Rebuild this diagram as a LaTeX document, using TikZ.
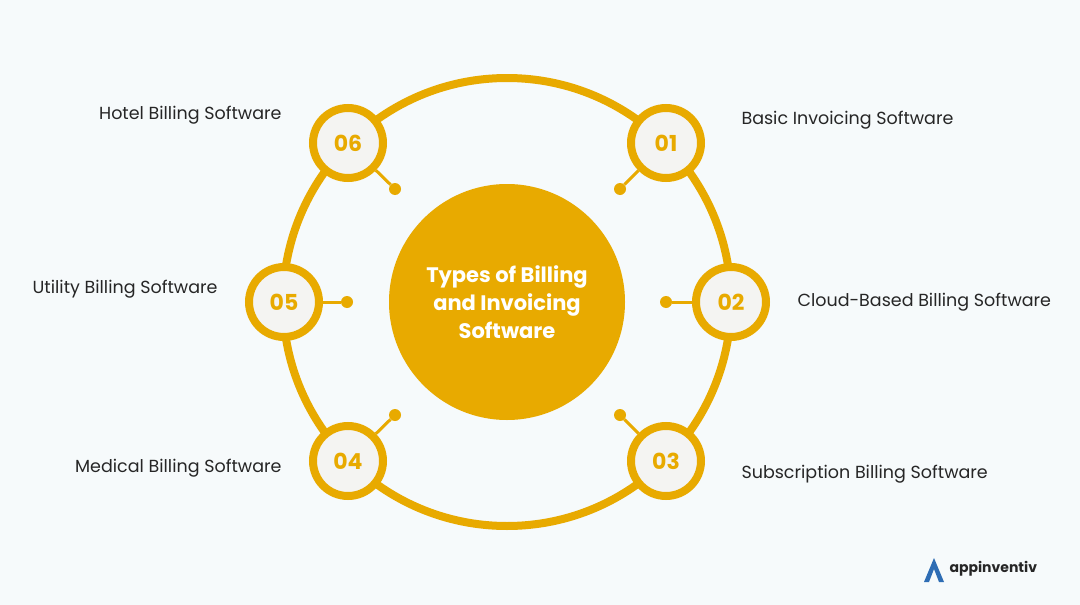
\documentclass[tikz,border=0pt]{standalone}
\usepackage{fontspec}
\setmainfont{Poppins}
\definecolor{gold}{HTML}{E8AA00}
\definecolor{bg}{HTML}{F6FAFB}
\definecolor{numfill}{HTML}{F4F4F2}
\definecolor{logo}{HTML}{2E6DB4}
\begin{document}
\begin{tikzpicture}[x=1pt,y=-1pt,
  num/.style={circle,draw=gold,line width=8pt,fill=numfill,minimum size=70pt,inner sep=0pt,text=gold,font=\fontsize{22}{24}\selectfont\bfseries},
  dot/.style={circle,fill=gold,minimum size=12pt,inner sep=0pt},
  lab/.style={font=\fontsize{17.5}{20}\selectfont,text=black!85},
  link/.style={gold,line width=3pt}]
\fill[bg] (0,0) rectangle (1080,605);
\useasboundingbox (0,0) rectangle (1080,605);
\draw[gold,line width=8pt] (507,302) circle (224);
\node[circle,fill=gold,minimum size=236pt,inner sep=0pt,text=white,align=center,font=\fontsize{21}{28}\selectfont\bfseries] (c) at (507,302) {Types of Billing\\and Invoicing\\Software};
\node[num] (n1) at (666,143) {01};
\node[num] (n2) at (731,302) {02};
\node[num] (n3) at (666,461) {03};
\node[num] (n4) at (348,461) {04};
\node[num] (n5) at (284,302) {05};
\node[num] (n6) at (348,143) {06};
\node[dot] (d1) at (620,189) {};
\node[dot] (d2) at (666,302) {};
\node[dot] (d3) at (620,415) {};
\node[dot] (d4) at (395,415) {};
\node[dot] (d5) at (347,302) {};
\node[dot] (d6) at (395,189) {};
\foreach \i in {1,...,6} \draw[link] (n\i) -- (d\i);
\node[lab,anchor=west] (l1) at (738,120) {Basic Invoicing Software};
\node[lab,anchor=west] (l2) at (794,302) {Cloud-Based Billing Software};
\node[lab,anchor=west] (l3) at (738,474) {Subscription Billing Software};
\node[lab,anchor=east] (l4) at (285,468) {Medical Billing Software};
\node[lab,anchor=east] (l5) at (221,289) {Utility Billing Software};
\node[lab,anchor=east] (l6) at (285,115) {Hotel Billing Software};
\fill[logo] (924,582) -- (934,558) -- (944,582) -- (939,582) -- (934,569) -- (929,582) -- cycle;
\node[anchor=west,font=\fontsize{14}{16}\selectfont\bfseries,text=black!85] (logo) at (946,569) {appinventiv};
\end{tikzpicture}
\end{document}
